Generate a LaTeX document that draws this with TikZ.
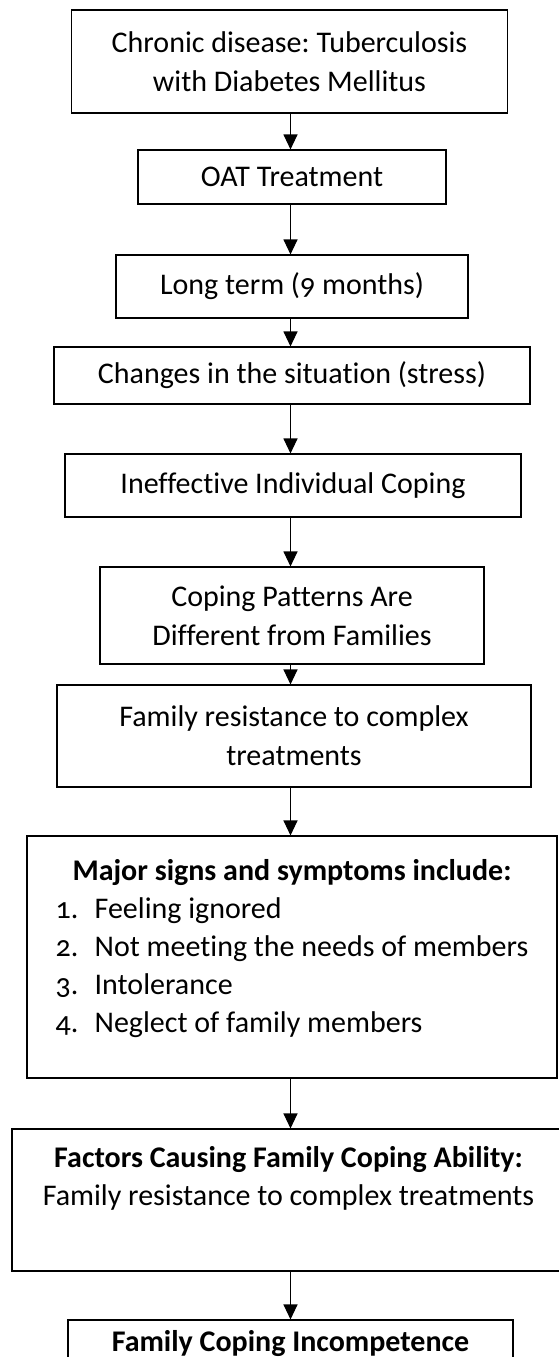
\documentclass[tikz,border=0pt]{standalone}
\usepackage{fontspec}
\setmainfont[Numbers=OldStyle,Ligatures=NoCommon]{Carlito}
\usetikzlibrary{arrows.meta}
\frenchspacing
\begin{document}
\begin{tikzpicture}[x=1pt,y=-1pt,
    box/.style={draw, line width=1.1pt, align=center, inner sep=0pt,
      font=\fontsize{30}{39}\selectfont},
    boxtext/.style={inner sep=0pt, align=center, font=\fontsize{30}{38}\selectfont}]
      \useasboundingbox (0,0) rectangle (559,1357);
      \draw
        (289.5,61.5) node[box, minimum width=436, minimum height=103] (b1){Chronic disease: Tuberculosis\\with Diabetes Mellitus}
        (292,177) node[box, minimum width=308, minimum height=54] (b2){OAT Treatment}
        (292,286.5) node[box, minimum width=352, minimum height=63] (b3){Long term (9 months)}
        (292,375.5) node[box, minimum width=476, minimum height=57] (b4){Changes in the situation (stress)}
        (293,485.5) node[box, minimum width=456, minimum height=63] (b5){Ineffective Individual Coping}
        (292,615.5) node[box, minimum width=384, minimum height=97] (b6){Coping Patterns Are\\Different from Families}
        (294,736) node[box, minimum width=474, minimum height=102] (b7){Family resistance to complex\\treatments}
        (292,957) node[box, minimum width=530, minimum height=242] (b8){}
        (288.5,1200) node[box, minimum width=553, minimum height=142] (b9){}
        (290.5,1343) node[box, minimum width=445, minimum height=46] (b10){\bfseries Family Coping Incompetence};
      \node[boxtext, anchor=north] (b8text) at ([yshift=-18]b8.north) {%
        \begin{tabular}{@{}p{39pt}@{}l@{}}
          \multicolumn{2}{c}{\bfseries Major signs and symptoms include:}\\
          1. & Feeling ignored\\
          2. & Not meeting the needs of members\\
          3. & Intolerance\\
          4. & Neglect of family members
        \end{tabular}};
      \node[boxtext, anchor=north] (b9text) at ([yshift=-18]b9.north) {%
        \bfseries Factors Causing Family Coping Ability:\\
        Family resistance to complex treatments};
      \begin{scope}[line width=1.1pt, -{Triangle[length=15pt,width=14pt]}]
        \draw (b1.south -| b10) to (b2.north -| b10);
        \draw (b2.south -| b10) to (b3.north -| b10);
        \draw (b3.south -| b10) to (b4.north -| b10);
        \draw (b4.south -| b10) to (b5.north -| b10);
        \draw (b5.south -| b10) to (b6.north -| b10);
        \draw (b6.south -| b10) to (b7.north -| b10);
        \draw (b7.south -| b10) to (b8.north -| b10);
        \draw (b8.south -| b10) to (b9.north -| b10);
        \draw (b9.south -| b10) to (b10.north);
      \end{scope}
    \end{tikzpicture}
\end{document}
